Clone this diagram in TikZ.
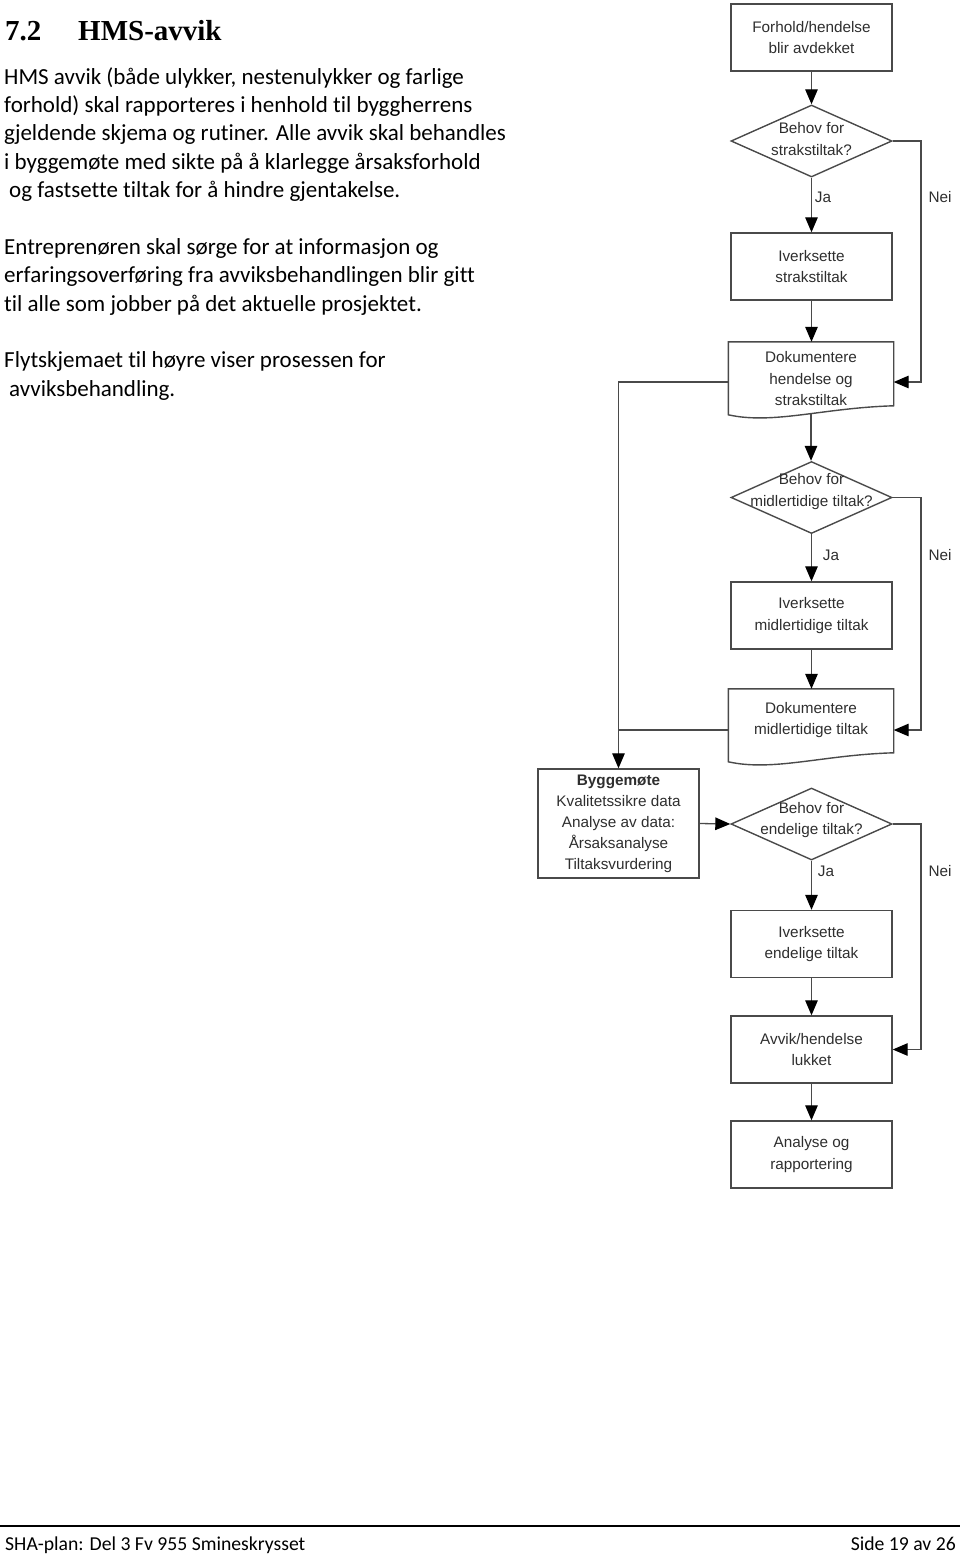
\documentclass[tikz,border=0pt]{standalone}
\usepackage{fontspec}
\setmainfont{Carlito}[Ligatures={NoCommon}]
\newfontfamily\arialf{Liberation Sans}
\newfontfamily\timesf{Liberation Serif}
\usetikzlibrary{arrows.meta,shapes.geometric,calc}
\definecolor{lc}{HTML}{4A4A4A}
\definecolor{tc}{HTML}{2E2E2E}
\newcommand\flowfont{\arialf\fontsize{15.3}{21.5}\selectfont}
\newcommand\bodyfont{\fontsize{23}{28.4}\selectfont}
\newcommand\docoutline[1]{%
  \draw[lc, line width=1.4pt] (#1.north west) -- (#1.north east) -- ($(#1.north east)+(0,64)$)
    .. controls ($(#1.north west)+(95,66)$) and ($(#1.north west)+(45,83)$) .. ($(#1.north west)+(0,73)$) -- cycle;}
\begin{document}
\begin{tikzpicture}[x=1pt,y=-1pt,
  box/.style={draw=lc, line width=1.4pt, minimum width=161pt, minimum height=67pt, inner sep=0pt, align=center, font=\flowfont, text=tc},
  docbox/.style={minimum width=165pt, inner sep=0pt, align=center, font=\flowfont, text=tc},
  dia/.style={draw=lc, line width=1.4pt, shape=diamond, minimum width=161pt, minimum height=72pt, inner sep=0pt},
  dtext/.style={font=\flowfont, text=tc, align=center},
  arr/.style={draw=lc, line width=1.3pt, -{Triangle[length=15pt,width=12.5pt,black]}},
  ln/.style={draw=lc, line width=1.3pt},
  yn/.style={font=\flowfont, text=tc},
  body/.style={anchor=base west, inner sep=0pt, font=\bodyfont},
]
\useasboundingbox (0,0) rectangle (960,1556);

% heading
\node[anchor=base west, inner sep=0pt, font=\timesf\bfseries\fontsize{29}{34}\selectfont] (h1) at (5,40) {7.2};
\node[anchor=base west, inner sep=0pt, font=\timesf\bfseries\fontsize{29}{34}\selectfont] (h2) at (78,40) {HMS-avvik};

% body text
\node[body] (t1) at (4,84) {HMS avvik (både ulykker, nestenulykker og farlige};
\node[body] (t2) at (4,112.4) {forhold) skal rapporteres i henhold til byggherrens};
\node[body] (t3) at (4,140.8) {gjeldende skjema og rutiner. Alle avvik skal behandles};
\node[body] (t4) at (4,169.2) {i byggemøte med sikte på å klarlegge årsaksforhold};
\node[body] (t5) at (9,197.6) {og fastsette tiltak for å hindre gjentakelse.};
\node[body] (t6) at (4,254.4) {Entreprenøren skal sørge for at informasjon og};
\node[body] (t7) at (4,282.8) {erfaringsoverføring fra avviksbehandlingen blir gitt};
\node[body] (t8) at (4,311.2) {til alle som jobber på det aktuelle prosjektet.};
\node[body] (t9) at (4,367.6) {Flytskjemaet til høyre viser prosessen for};
\node[body] (t10) at (9,396) {avviksbehandling.};

% flowchart nodes
\node[box] (f1) at (811.5,37.5) {Forhold/hendelse\\blir avdekket};
\node[dia, label={[dtext, yshift=2pt]center:{Behov for\\strakstiltak?}}] (d1) at (811.5,141) {};
\node[box] (iv1) at (811.5,266.5) {Iverksette\\strakstiltak};
\node[docbox, minimum height=74pt] (doc1) at (811,379) {Dokumentere\\hendelse og\\strakstiltak};
\docoutline{doc1}
\node[dia, label={[dtext, yshift=6pt]center:{Behov for\\midlertidige tiltak?}}] (d2) at (811.5,497.5) {};
\node[box] (iv2) at (811.5,615.5) {Iverksette\\midlertidige tiltak};
\node[docbox, minimum height=62pt] (doc2) at (811,720) {Dokumentere\\midlertidige tiltak};
\docoutline{doc2}
\node[box, minimum height=109pt, font=\arialf\fontsize{15.3}{21}\selectfont] (bygg) at (618.5,823.5) {\textbf{Byggemøte}\\Kvalitetssikre data\\Analyse av data:\\Årsaksanalyse\\Tiltaksvurdering};
\node[dia, label={[dtext, yshift=4pt]center:{Behov for\\endelige tiltak?}}] (d3) at (811.5,824) {};
\node[box] (iv3) at (811.5,944) {Iverksette\\endelige tiltak};
\node[box] (lukk) at (811.5,1049.5) {Avvik/hendelse\\lukket};
\node[box] (anal) at (811.5,1154.5) {Analyse og\\rapportering};

% helper coordinates
\coordinate (neix) at (921,0);
\coordinate (doc1e) at ([yshift=-3pt]doc1.east);
\coordinate (doc1w) at ([yshift=-3pt]doc1.west);
\coordinate (doc1b) at ($(doc1.north)+(0,72)$);
\coordinate (doc2e) at ([yshift=-10pt]doc2.east);
\coordinate (doc2w) at ([yshift=-10pt]doc2.west);

% connectors main column
\draw[arr] (f1.south) -- (d1.north);
\draw[arr] (d1.south) -- (iv1.north);
\draw[arr] (iv1.south) -- (iv1.south |- doc1.north);
\draw[arr] (doc1b) -- (doc1b |- d2.north);
\draw[arr] (d2.south) -- (iv2.north);
\draw[arr] (iv2.south) -- (iv2.south |- doc2.north);
\draw[arr] (bygg.east) -- (d3.west);
\draw[arr] (d3.south) -- (iv3.north);
\draw[arr] (iv3.south) -- (lukk.north);
\draw[arr] (lukk.south) -- (anal.north);

% Nei routes
\draw[arr] (d1.east) -| (neix |- doc1e) -- (doc1e);
\draw[arr] (d2.east) -| (neix |- doc2e) -- (doc2e);
\draw[arr] (d3.east) -| (neix |- lukk.east) -- (lukk.east);

% left routes to Byggemote
\draw[arr] (doc1w) -| (bygg.north);
\draw[ln] (doc2w) -- (doc2w -| bygg.north);

% Ja / Nei labels
\node[yn] (ja1) at (823,197) {Ja};
\node[yn] (nei1) at (940,197) {Nei};
\node[yn] (ja2) at (831,555) {Ja};
\node[yn] (nei2) at (940,555) {Nei};
\node[yn] (ja3) at (826,871) {Ja};
\node[yn] (nei3) at (940,871) {Nei};

% footer
\draw[line width=2pt] (0,1526) -- (960,1526);
\node[anchor=base west, inner sep=0pt, font=\fontsize{19.7}{24}\selectfont] (ft1) at (5,1550) {SHA-plan: Del 3 Fv 955 Smineskrysset};
\node[anchor=base east, inner sep=0pt, font=\fontsize{19.7}{24}\selectfont] (ft2) at (956,1550) {Side 19 av 26};
\end{tikzpicture}
\end{document}
